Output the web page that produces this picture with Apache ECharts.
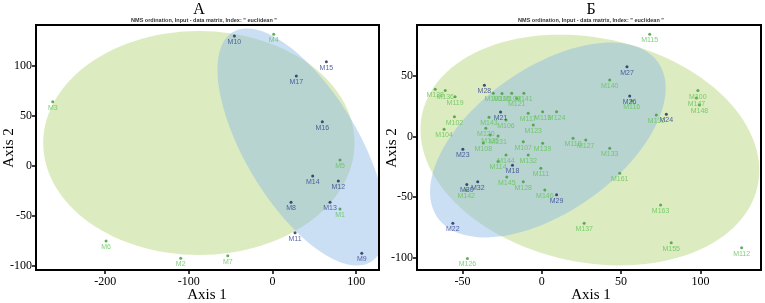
<!DOCTYPE html>
<html><head><meta charset="utf-8">
<script src="https://cdn.jsdelivr.net/npm/echarts@6/dist/echarts.min.js"></script>
<style>html,body{margin:0;padding:0;background:#fff}#c{width:765px;height:303px}</style>
</head><body><div id="c"></div>
<script>
// ---- Data ----
const titleA = 'А';
const titleB = 'Б';
const subTitle = 'NMS ordination, Input - data matrix, Index: " euclidean "';
const axisName1 = 'Axis 1';
const axisName2 = 'Axis 2';

const ticksAx = [-200, -100, 0, 100];
const ticksAy = [-100, -50, 0, 50, 100];
const ticksBx = [-50, 0, 50, 100];
const ticksBy = [-100, -50, 0, 50];

// Panel A points [label, x, y]
const pointsA_blue = [
  ['M10', -45.6, 129.7], ['M15', 64.3, 104], ['M17', 28.4, 89.7], ['M16', 59.5, 44],
  ['M14', 48, -10.3], ['M12', 78.6, -15.3], ['M8', 22.1, -36.6], ['M13', 68.7, -36.6],
  ['M11', 26.9, -67], ['M9', 106.6, -87.6]
];
const pointsA_green = [
  ['M4', 1.4, 131.4], ['M5', 80.6, 5.7], ['M3', -262.6, 64], ['M1', 80.6, -43.3],
  ['M6', -198.9, -75.3], ['M2', -109.7, -92.6], ['M7', -53.5, -90]
];
// Panel B points
const pointsB_blue = [
  ['M28', -36.2, 42.3], ['M21', -26.0, 20.2], ['M27', 53.7, 57.7], ['M26', 55.4, 33.5],
  ['M24', 78.5, 18.3], ['M23', -49.8, -10.6], ['M18', -18.5, -23.7], ['M30', -47.3, -39.7],
  ['M32', -40.4, -37.4], ['M29', 9.3, -48.1], ['M22', -56.1, -71.7]
];
const pointsB_green = [
  ['M138', -67.2, 39.0], ['M136', -60.9, 37.9], ['M119', -54.7, 32.9], ['M103', -30.6, 35.7],
  ['M125', -25.1, 35.5], ['M109', -19.0, 35.7], ['M141', -11.3, 35.7], ['M121', -15.8, 31.6],
  ['M102', -55.1, 16.4], ['M104', -61.6, 6.0], ['M143', -33.3, 15.9], ['M106', -22.6, 13.6],
  ['M117', -8.6, 19.2], ['M113', 0.5, 20.5], ['M124', 9.3, 20.5], ['M123', -5.4, 9.5],
  ['M120', -35.3, 6.8], ['M135', -32.6, 1.2], ['M131', -27.6, 0.4], ['M108', -36.9, -5.4],
  ['M107', -11.7, -4.3], ['M139', 0.5, -5.6], ['M144', -22.6, -15.3], ['M132', -8.6, -15.3],
  ['M114', -27.6, -20.6], ['M111', -0.6, -26.3], ['M128', -11.7, -37.4], ['M146', 1.9, -44.2],
  ['M145', -22.1, -33.5], ['M142', -47.7, -44.2], ['M137', 26.7, -71.7], ['M163', 74.9, -56.6],
  ['M155', 81.6, -87.8], ['M112', 126.0, -91.9], ['M126', -46.9, -100.7], ['M115', 68.0, 84.5],
  ['M140', 42.8, 46.7], ['M116', 56.7, 29.3], ['M110', 72.2, 17.8], ['M100', 98.4, 37.9],
  ['M147', 97.5, 31.8], ['M148', 99.4, 26.0], ['M118', 19.7, -1.5], ['M127', 27.7, -2.9],
  ['M133', 42.8, -9.8], ['M161', 49.1, -30.4]
];

// Ellipses: [cx, cy, ux, uy, vx, vy] (centre and conjugate semi-axes, data units)
const ellipseA_green = [-88, 22.7, 186, 0, 0, 112];
const ellipseA_blue = [35, 18.7, 82.4, -115, 58, 29];
const ellipseB_green = [30.3, -11.2, 105.8, -29.6, -14.7, -90.6];
const ellipseB_blue = [3.8, -2.9, 69.6, 64.0, 26.0, -48.8];

// ---- Styles ----
const GREEN_FILL = 'rgb(220,236,192)';
const BLUE_FILL = 'rgba(140,185,230,0.45)';
const BLUE_DOT = '#1c2458';
const BLUE_LBL = '#2d3f8f';
const GREEN_DOT = '#3f9a35';
const GREEN_LBL = '#5fc455';
const SERIF = '"Liberation Serif","DejaVu Serif",serif';

function ellipseSeries(ell, color, xi, yi) {
  return {
    type: 'custom', xAxisIndex: xi, yAxisIndex: yi, clip: true, z: 1, silent: true,
    data: [[ell[0], ell[1]]],
    renderItem: function (params, api) {
      const pts = [];
      const n = 120;
      for (let i = 0; i <= n; i++) {
        const t = i / n * Math.PI * 2;
        const x = ell[0] + Math.cos(t) * ell[2] + Math.sin(t) * ell[4];
        const y = ell[1] + Math.cos(t) * ell[3] + Math.sin(t) * ell[5];
        pts.push(api.coord([x, y]));
      }
      return { type: 'polygon', shape: { points: pts }, style: { fill: color, stroke: null } };
    }
  };
}
function scatterSeries(pts, dot, lbl, xi, yi) {
  return {
    type: 'scatter', xAxisIndex: xi, yAxisIndex: yi, z: 3, symbolSize: 3,
    itemStyle: { color: dot },
    data: pts.map(p => ({ name: p[0], value: [p[1], p[2]] })),
    label: { show: true, position: 'bottom', distance: 1, formatter: '{b}', color: lbl,
      fontSize: 7, fontFamily: 'Liberation Sans, Arial, sans-serif' },
    emphasis: { disabled: true }
  };
}
function xAxis(gi, min, max, ticks) {
  return {
    type: 'value', gridIndex: gi, min: min, max: max, splitLine: { show: false },
    position: 'bottom',
    axisLine: { show: false, onZero: false },
    axisTick: { show: true, inside: false, length: 4, lineStyle: { color: '#000', width: 1.5 }, customValues: ticks },
    axisLabel: { color: '#000', fontSize: 12, fontFamily: SERIF, margin: 6, customValues: ticks }
  };
}
function yAxis(gi, min, max, ticks) {
  return {
    type: 'value', gridIndex: gi, min: min, max: max, splitLine: { show: false },
    position: 'left',
    axisLine: { show: false, onZero: false },
    axisTick: { show: true, inside: false, length: 4, lineStyle: { color: '#000', width: 1.5 }, customValues: ticks },
    axisLabel: { color: '#000', fontSize: 12, fontFamily: SERIF, margin: 4, customValues: ticks }
  };
}
function txt(x, y, s, size, opts) {
  return Object.assign({ type: 'text', x: x, y: y, z: 10,
    style: { text: s, fontSize: size, fontFamily: SERIF, fill: '#000', align: 'center', verticalAlign: 'middle' } }, opts || {});
}

const chart = echarts.init(document.getElementById('c'), null, { renderer: 'canvas' });
chart.setOption({
  animation: false,
  backgroundColor: '#fff',
  grid: [
    { left: 36, right: 386, top: 25, bottom: 33, show: true, borderColor: '#000', borderWidth: 2, backgroundColor: 'transparent', z: 5 },
    { left: 417, right: 4, top: 25, bottom: 33, show: true, borderColor: '#000', borderWidth: 2, backgroundColor: 'transparent', z: 5 }
  ],
  xAxis: [xAxis(0, -282.6, 127.2, ticksAx), xAxis(1, -78.7, 138.2, ticksBx)],
  yAxis: [yAxis(0, -104.3, 140.7, ticksAy), yAxis(1, -110.3, 92.1, ticksBy)],
  series: [
    ellipseSeries(ellipseA_green, GREEN_FILL, 0, 0),
    ellipseSeries(ellipseA_blue, BLUE_FILL, 0, 0),
    scatterSeries(pointsA_green, GREEN_DOT, GREEN_LBL, 0, 0),
    scatterSeries(pointsA_blue, BLUE_DOT, BLUE_LBL, 0, 0),
    ellipseSeries(ellipseB_green, GREEN_FILL, 1, 1),
    ellipseSeries(ellipseB_blue, BLUE_FILL, 1, 1),
    scatterSeries(pointsB_green, GREEN_DOT, GREEN_LBL, 1, 1),
    scatterSeries(pointsB_blue, BLUE_DOT, BLUE_LBL, 1, 1)
  ],
  graphic: [
    txt(199, 10, titleA, 16),
    txt(591, 10, titleB, 16),
    { type: 'text', x: 204, y: 20, z: 10, style: { text: subTitle, fontSize: 5.5, fontWeight: 'bold', fontFamily: 'Liberation Sans, Arial, sans-serif', fill: '#333', align: 'center', verticalAlign: 'middle' } },
    { type: 'text', x: 591, y: 20, z: 10, style: { text: subTitle, fontSize: 5.5, fontWeight: 'bold', fontFamily: 'Liberation Sans, Arial, sans-serif', fill: '#333', align: 'center', verticalAlign: 'middle' } },
    txt(207, 295, axisName1, 15),
    txt(591, 295, axisName1, 15),
    txt(9, 148, axisName2, 15, { rotation: Math.PI / 2 }),
    txt(392, 148, axisName2, 15, { rotation: Math.PI / 2 })
  ]
});
</script></body></html>
